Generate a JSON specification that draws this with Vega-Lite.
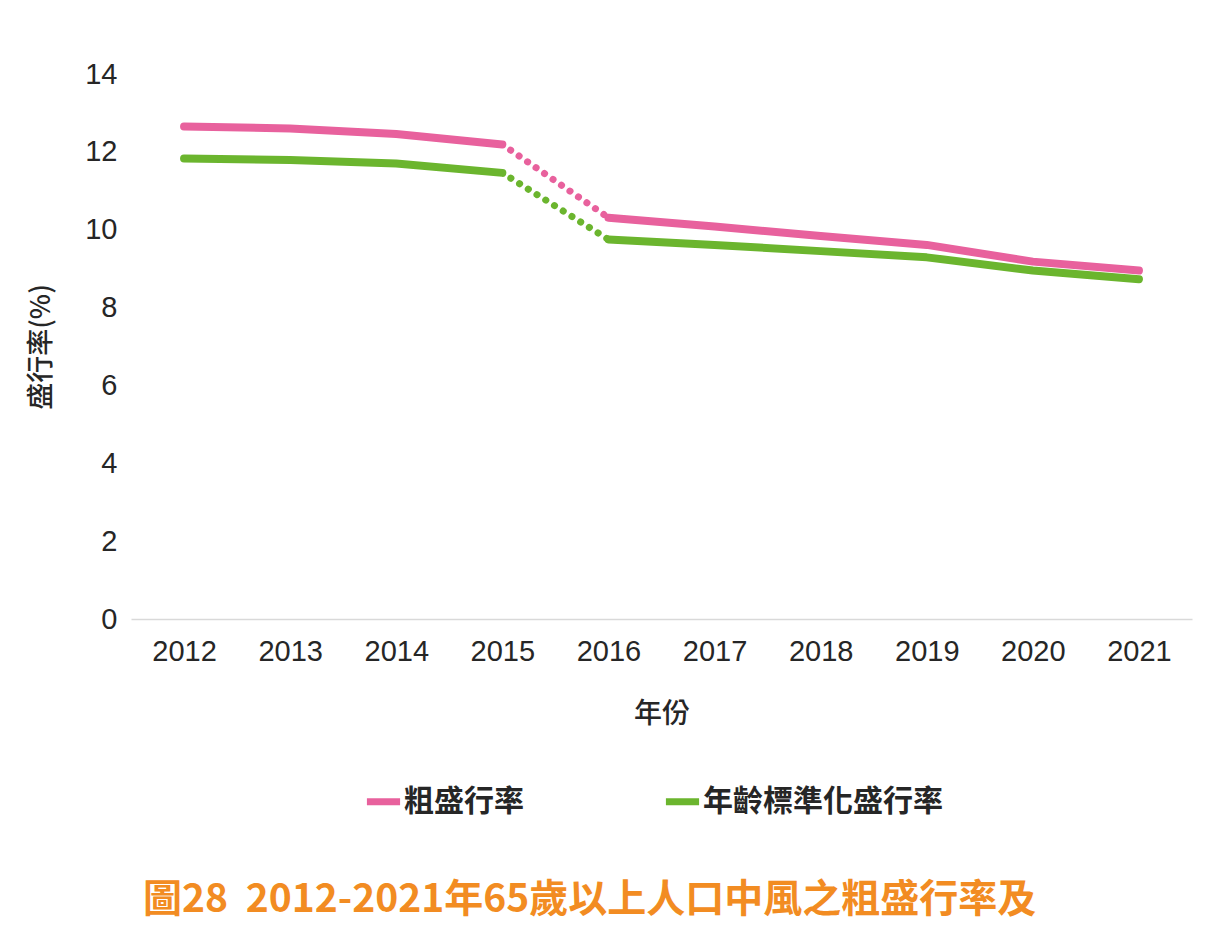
{
  "$schema": "https://vega.github.io/schema/vega-lite/v6.json",
  "width": 1061,
  "height": 545,
  "autosize": {"type": "none"},
  "padding": {"left": 131, "top": 74, "right": 22, "bottom": 311},
  "background": "white",
  "config": {"view": {"stroke": null}},
  "title": {
    "text": "圖28 \u00a02012-2021年65歲以上人口中風之粗盛行率及",
    "orient": "bottom",
    "anchor": "start",
    "frame": "group",
    "dx": 12,
    "offset": 64,
    "font": "Noto Sans CJK TC",
    "fontSize": 39,
    "fontWeight": "bold",
    "color": "#F28C22"
  },
  "data": {
    "values": [
      {"year": 2012, "series": "粗盛行率", "value": 12.65},
      {"year": 2013, "series": "粗盛行率", "value": 12.60},
      {"year": 2014, "series": "粗盛行率", "value": 12.46},
      {"year": 2015, "series": "粗盛行率", "value": 12.19},
      {"year": 2016, "series": "粗盛行率", "value": 10.31},
      {"year": 2017, "series": "粗盛行率", "value": 10.08},
      {"year": 2018, "series": "粗盛行率", "value": 9.84},
      {"year": 2019, "series": "粗盛行率", "value": 9.61},
      {"year": 2020, "series": "粗盛行率", "value": 9.18},
      {"year": 2021, "series": "粗盛行率", "value": 8.95},
      {"year": 2012, "series": "年齡標準化盛行率", "value": 11.83},
      {"year": 2013, "series": "年齡標準化盛行率", "value": 11.79},
      {"year": 2014, "series": "年齡標準化盛行率", "value": 11.70},
      {"year": 2015, "series": "年齡標準化盛行率", "value": 11.46},
      {"year": 2016, "series": "年齡標準化盛行率", "value": 9.75},
      {"year": 2017, "series": "年齡標準化盛行率", "value": 9.61},
      {"year": 2018, "series": "年齡標準化盛行率", "value": 9.45},
      {"year": 2019, "series": "年齡標準化盛行率", "value": 9.29},
      {"year": 2020, "series": "年齡標準化盛行率", "value": 8.95},
      {"year": 2021, "series": "年齡標準化盛行率", "value": 8.73}
    ]
  },
  "encoding": {
    "x": {
      "field": "year",
      "type": "ordinal",
      "scale": {"type": "point", "padding": 0.5},
      "axis": {
        "title": "年份",
        "labelAngle": 0,
        "ticks": false,
        "domain": true,
        "domainColor": "#D9D9D9",
        "domainWidth": 1.5,
        "labelPadding": 18,
        "labelFont": "Liberation Sans",
        "labelFontSize": 29,
        "labelColor": "#262626",
        "titleFont": "Noto Sans CJK TC",
        "titleFontSize": 28,
        "titleFontWeight": 500,
        "titleColor": "#262626",
        "titlePadding": 34,
        "grid": false
      }
    },
    "y": {
      "field": "value",
      "type": "quantitative",
      "scale": {"domain": [0, 14]},
      "axis": {
        "title": "盛行率(%)",
        "values": [0, 2, 4, 6, 8, 10, 12, 14],
        "ticks": false,
        "domain": false,
        "grid": false,
        "labelPadding": 14,
        "labelFont": "Liberation Sans",
        "labelFontSize": 29,
        "labelColor": "#262626",
        "titleFont": "Noto Sans CJK TC",
        "titleFontSize": 27,
        "titleFontWeight": 500,
        "titleColor": "#262626",
        "titlePadding": 29
      }
    },
    "color": {
      "field": "series",
      "type": "nominal",
      "scale": {"domain": ["粗盛行率", "年齡標準化盛行率"], "range": ["#E8619D", "#6BB52E"]},
      "legend": {
        "title": null,
        "orient": "none",
        "direction": "horizontal",
        "legendX": 232,
        "legendY": 707,
        "symbolType": "stroke",
        "symbolSize": 1100,
        "symbolStrokeWidth": 7,
        "symbolDash": [],
        "labelFont": "Noto Sans CJK TC",
        "labelFontSize": 30,
        "labelFontWeight": "bold",
        "labelColor": "#262626",
        "labelOffset": 0,
        "labelLimit": 400,
        "columnPadding": 127,
        "padding": 0
      }
    }
  },
  "layer": [
    {
      "transform": [{"filter": "datum.year <= 2015"}],
      "mark": {"type": "line", "strokeWidth": 8, "strokeCap": "round", "strokeJoin": "round"}
    },
    {
      "transform": [{"filter": "datum.year >= 2016"}],
      "mark": {"type": "line", "strokeWidth": 8, "strokeCap": "round", "strokeJoin": "round"}
    },
    {
      "transform": [{"filter": "datum.year >= 2015 && datum.year <= 2016"}],
      "mark": {"type": "line", "strokeWidth": 7, "strokeCap": "round", "strokeDash": [0.1, 10.2], "strokeDashOffset": -10}
    }
  ]
}
